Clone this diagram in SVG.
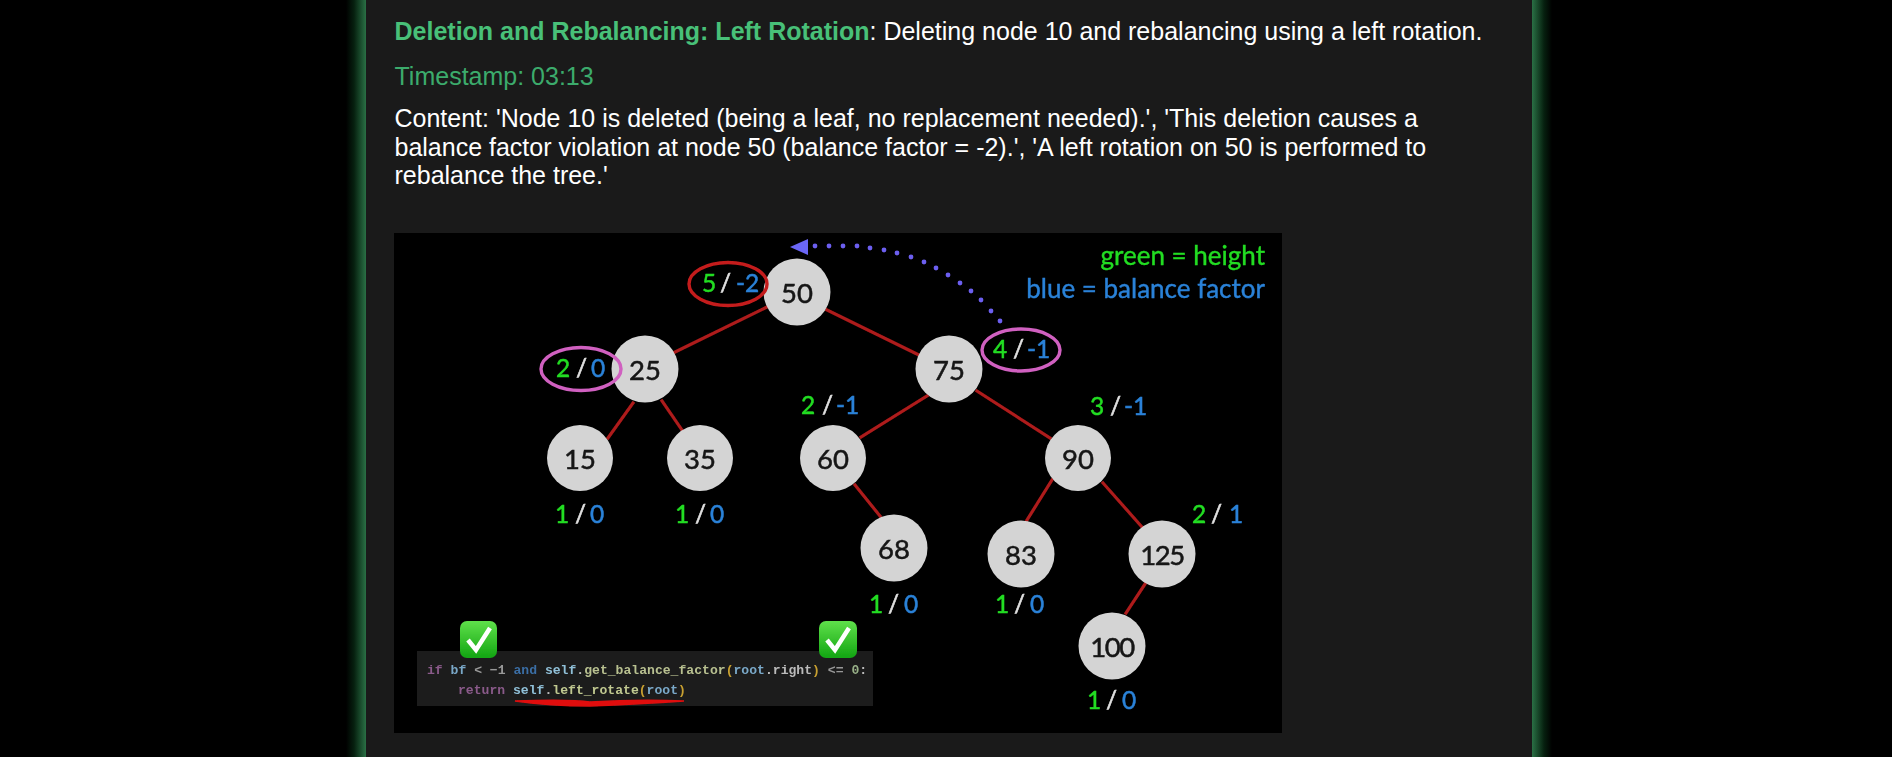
<svg xmlns="http://www.w3.org/2000/svg" width="1892" height="757" viewBox="0 0 1892 757">
<style>
.h{font-family:"Liberation Sans",Arial,sans-serif;font-size:25px;fill:#fff}
.n circle{fill:#d4d4d4}
.n text{font-family:"Lato","Open Sans",sans-serif;font-size:27.500px;fill:#141414;stroke:#141414;stroke-width:.5;text-anchor:middle}
.e line{stroke:#ad1a1a;stroke-width:3.2;stroke-linecap:square}
.l{font-family:"Lato","Open Sans",sans-serif;font-size:24.500px;stroke-width:.5}
.g{fill:#22dd22;stroke:#22dd22}.s{fill:#e0e0e0;stroke:#e0e0e0}.b{fill:#2a82d8;stroke:#2a82d8}
.c{font-family:"Liberation Mono",monospace;font-size:13.1px;font-weight:700}
.ring{fill:none;stroke-width:3.400}
</style>
<defs>
<linearGradient id="gl" x1="0" x2="1" y1="0" y2="0"><stop offset="0" stop-color="#000"/><stop offset=".4" stop-color="#06200f"/><stop offset="1" stop-color="#2a7045"/></linearGradient>
<linearGradient id="gr" x1="1" x2="0" y1="0" y2="0"><stop offset="0" stop-color="#000"/><stop offset=".4" stop-color="#06200f"/><stop offset="1" stop-color="#2a7045"/></linearGradient>
<linearGradient id="chk" x1="0" x2="0" y1="0" y2="1"><stop offset="0" stop-color="#5fe04a"/><stop offset="1" stop-color="#12a512"/></linearGradient>
<filter id="soft" x="-2%" y="-2%" width="104%" height="104%"><feGaussianBlur stdDeviation="0.5"/></filter>
</defs>
<rect width="1892" height="757" fill="#000"/>
<rect x="346" y="0" width="20" height="757" fill="url(#gl)"/>
<rect x="1532" y="0" width="20" height="757" fill="url(#gr)"/>
<rect x="366" y="0" width="1166" height="757" fill="#1a1a1a"/>

<text class="h" x="394.500" y="40"><tspan font-weight="700" fill="#48c078">Deletion and Rebalancing: Left Rotation</tspan>: Deleting node 10 and rebalancing using a left rotation.</text>
<text class="h" x="394.500" y="84.500" style="fill:#3cab6c">Timestamp: 03:13</text>
<text class="h" x="394.500" y="127">Content: 'Node 10 is deleted (being a leaf, no replacement needed).', 'This deletion causes a</text>
<text class="h" x="394.500" y="155.500">balance factor violation at node 50 (balance factor = -2).', 'A left rotation on 50 is performed to</text>
<text class="h" x="394.500" y="184">rebalance the tree.'</text>

<rect x="394" y="233" width="888" height="500" fill="#000"/>
<g id="picture" filter="url(#soft)">
<g id="connectors" class="e">
<line x1="767" y1="307" x2="675" y2="352"/>
<line x1="827" y1="310" x2="919" y2="355"/>
<line x1="633" y1="403" x2="608" y2="438"/>
<line x1="662" y1="401" x2="682" y2="430"/>
<line x1="927" y1="396" x2="861" y2="437"/>
<line x1="977" y1="391" x2="1050" y2="438"/>
<line x1="855" y1="485" x2="880" y2="516"/>
<line x1="1052" y1="480" x2="1027" y2="520"/>
<line x1="1103" y1="483" x2="1142" y2="527"/>
<line x1="1145" y1="584" x2="1126" y2="613"/>
</g>
<g id="rotation-arrow" fill="#6c5ff0">
<polygon points="790,247 808,239 808,255" fill="#6b66f5"/>
<circle cx="815" cy="246" r="2.4"/><circle cx="829" cy="246" r="2.4"/><circle cx="843" cy="246" r="2.4"/><circle cx="857" cy="246" r="2.4"/><circle cx="870" cy="248" r="2.4"/><circle cx="884" cy="250" r="2.4"/><circle cx="897" cy="253" r="2.4"/><circle cx="911" cy="257" r="2.4"/><circle cx="924" cy="262" r="2.4"/><circle cx="936" cy="268" r="2.4"/><circle cx="948" cy="275" r="2.4"/><circle cx="960" cy="283" r="2.4"/><circle cx="971" cy="291" r="2.4"/><circle cx="981" cy="300" r="2.4"/><circle cx="991" cy="311" r="2.4"/><circle cx="1000" cy="321" r="2.4"/>
</g>
<g id="node-50" class="n"><circle cx="797" cy="292" r="33.500"/><text x="797" y="303">50</text></g>
<g id="node-25" class="n"><circle cx="645" cy="369" r="33.500"/><text x="645" y="380">25</text></g>
<g id="node-75" class="n"><circle cx="949" cy="369" r="33.500"/><text x="949" y="380">75</text></g>
<g id="node-15" class="n"><circle cx="580" cy="458" r="33"/><text x="580" y="469">15</text></g>
<g id="node-35" class="n"><circle cx="700" cy="458" r="33"/><text x="700" y="469">35</text></g>
<g id="node-60" class="n"><circle cx="833" cy="458" r="33"/><text x="833" y="469">60</text></g>
<g id="node-90" class="n"><circle cx="1078" cy="458" r="33"/><text x="1078" y="469">90</text></g>
<g id="node-68" class="n"><circle cx="894" cy="548" r="33.500"/><text x="894" y="559">68</text></g>
<g id="node-83" class="n"><circle cx="1021" cy="554" r="33.500"/><text x="1021" y="565">83</text></g>
<g id="node-125" class="n"><circle cx="1162" cy="554" r="33.500"/><text x="1162" y="565" letter-spacing="-1.500">125</text></g>
<g id="node-100" class="n"><circle cx="1112" cy="646" r="33.500"/><text x="1112" y="657" letter-spacing="-1.500">100</text></g>

<g id="rings">
<ellipse class="ring" cx="728" cy="284" rx="39" ry="21.500" stroke="#c41c1c"/>
<ellipse class="ring" cx="581" cy="369" rx="40" ry="21.500" stroke="#d060c0"/>
<ellipse class="ring" cx="1021" cy="350" rx="39" ry="21" stroke="#d060c0"/>
</g>
<g id="labels" class="l">
<text y="292"><tspan class="g" x="702">5</tspan><tspan class="s" x="720">/</tspan><tspan class="b" x="736">-2</tspan></text>
<text y="377"><tspan class="g" x="556">2</tspan><tspan class="s" x="576">/</tspan><tspan class="b" x="591">0</tspan></text>
<text y="414"><tspan class="g" x="801">2</tspan><tspan class="s" x="822">/</tspan><tspan class="b" x="836">-1</tspan></text>
<text y="358"><tspan class="g" x="993">4</tspan><tspan class="s" x="1013">/</tspan><tspan class="b" x="1027">-1</tspan></text>
<text y="415"><tspan class="g" x="1090">3</tspan><tspan class="s" x="1110">/</tspan><tspan class="b" x="1124">-1</tspan></text>
<text y="523"><tspan class="g" x="555">1</tspan><tspan class="s" x="575">/</tspan><tspan class="b" x="590">0</tspan></text>
<text y="523"><tspan class="g" x="675">1</tspan><tspan class="s" x="695">/</tspan><tspan class="b" x="710">0</tspan></text>
<text y="613"><tspan class="g" x="869">1</tspan><tspan class="s" x="888">/</tspan><tspan class="b" x="904">0</tspan></text>
<text y="613"><tspan class="g" x="995">1</tspan><tspan class="s" x="1014">/</tspan><tspan class="b" x="1030">0</tspan></text>
<text y="709"><tspan class="g" x="1087">1</tspan><tspan class="s" x="1106">/</tspan><tspan class="b" x="1122">0</tspan></text>
<text y="523"><tspan class="g" x="1192">2</tspan><tspan class="s" x="1211">/</tspan><tspan class="b" x="1229">1</tspan></text>
</g>
<g id="legend" font-family="Lato,'Open Sans',sans-serif" font-size="26" text-anchor="end" stroke-width=".4">
<text x="1265" y="265" fill="#22dd22" stroke="#22dd22">green = height</text>
<text x="1265" y="298" fill="#2a82d8" stroke="#2a82d8">blue = balance factor</text>
</g>
<g id="code">
<rect x="417" y="651" width="456" height="55" fill="#1c1c1c"/>
<text class="c" y="674" xml:space="preserve"><tspan x="427" fill="#8a5a8a">if</tspan><tspan fill="#7aa8c8"> bf</tspan><tspan fill="#999"> &lt; −1 </tspan><tspan fill="#3a6ea5">and</tspan><tspan fill="#90c0d8"> self</tspan><tspan fill="#bbb">.</tspan><tspan fill="#b8c090">get_balance_factor</tspan><tspan fill="#c8a030">(</tspan><tspan fill="#7aa8c8">root</tspan><tspan fill="#bbb">.right</tspan><tspan fill="#c8a030">)</tspan><tspan fill="#999"> &lt;= </tspan><tspan fill="#98b088">0</tspan><tspan fill="#bbb">:</tspan></text>
<text class="c" y="694" xml:space="preserve"><tspan x="458" fill="#8a5a8a">return</tspan><tspan fill="#90c0d8"> self</tspan><tspan fill="#bbb">.</tspan><tspan fill="#c0c890">left_rotate</tspan><tspan fill="#c8a030">(</tspan><tspan fill="#7aa8c8">root</tspan><tspan fill="#c8a030">)</tspan></text>
<path d="M515 701 Q570 699 590 702 Q640 699 684 701 Q640 704 590 706 Q550 706 515 701Z" fill="#e01010" stroke="#e01010" stroke-width="1.500"/>
</g>
<g id="check-1"><rect x="460" y="621" width="37" height="37" rx="7" fill="url(#chk)"/><path d="M468 640 L476 650 L490 628" fill="none" stroke="#fff" stroke-width="4.500"/></g>
<g id="check-2"><rect x="819" y="621" width="38" height="37" rx="7" fill="url(#chk)"/><path d="M827 640 L835 650 L849 628" fill="none" stroke="#fff" stroke-width="4.500"/></g>
</g>
</svg>
